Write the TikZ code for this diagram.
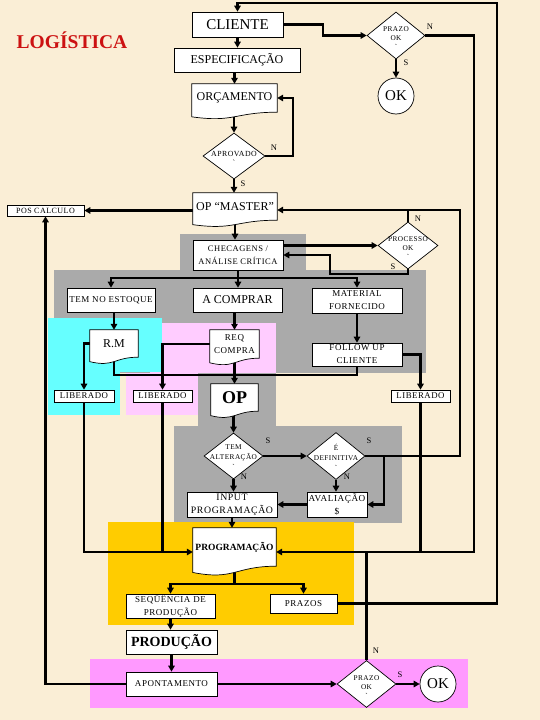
\documentclass[tikz,border=0pt]{standalone}
\usepackage{fontspec}
\setmainfont{Liberation Serif}
\newfontfamily\bmf[LetterSpace=6]{Liberation Serif}
\usetikzlibrary{arrows.meta,shapes.geometric,calc}
\pgfdeclarelayer{bg}
\pgfdeclarelayer{lines}
\pgfdeclarelayer{docs}
\pgfsetlayers{bg,lines,docs,main}
\newcommand\myfs[2]{\fontsize{#1}{#2}\selectfont}
\definecolor{cream}{RGB}{250,238,214}
\definecolor{greyc}{RGB}{170,170,170}
\definecolor{cyanc}{RGB}{102,255,255}
\definecolor{pinkl}{RGB}{255,204,255}
\definecolor{goldc}{RGB}{255,204,0}
\definecolor{magc}{RGB}{255,153,255}
\definecolor{titred}{RGB}{204,17,17}
\tikzset{
  conn/.style={line width=2.2pt,draw=black},
  arr/.style={conn,-{Triangle[length=6pt,width=6.5pt]}},
  box/.style={rectangle,draw=black,line width=0.7pt,fill=white,inner sep=0pt,align=center},
  dia/.style={diamond,draw=black,line width=0.7pt,fill=white,inner sep=0pt},
  dtext/.style={inner sep=0pt,align=center,font=\bmf\myfs{7.3}{9}},
  doct/.style={rectangle,inner sep=0pt,align=center},
  docline/.style={draw=black,line width=0.7pt,fill=white},
  okc/.style={circle,draw=black,line width=0.7pt,fill=white,inner sep=0pt,minimum size=36pt,font=\myfs{15}{16}},
  lab/.style={inner sep=0pt,font=\bmf\myfs{8.5}{9}},
  sm/.style={font=\bmf\myfs{9}{13}},
}
% document shape outline around a named node #1 of height #2
\newcommand\docshape[2]{%
  \path[docline] (#1.north west) -- (#1.north east) -- (#1.south east)
    .. controls (#1.south) and ($(#1.south)+(0,0.38*#2)$) ..
    ($(#1.south west)+(0,0.165*#2)$) -- cycle;}
\begin{document}
\begin{tikzpicture}[x=1pt,y=-1pt]
\useasboundingbox (0,0) rectangle (540,720);
\begin{pgfonlayer}{bg}
  \fill[cream] (0,0) rectangle (540,720);
  \fill[greyc] (180,234) rectangle (306,270);
  \fill[greyc] (54,270) rectangle (426,373);
  \fill[greyc] (198,373) rectangle (276,426);
  \fill[greyc] (174,426) rectangle (402,523);
  \fill[pinkl] (150,323) rectangle (276,373);
  \fill[pinkl] (126,373) rectangle (198,415);
  \fill[cyanc] (48,318) rectangle (162,372);
  \fill[cyanc] (48,372) rectangle (120,415);
  \fill[goldc] (108,522) rectangle (354,625);
  \fill[magc] (90,659) rectangle (468,708);
\end{pgfonlayer}

% title
\node[font=\bfseries\myfs{19.5}{22},text=titred] (title) at (72,40) {LOGÍSTICA};

% nodes
\node[box,minimum width=91pt,minimum height=25pt,font=\myfs{15}{16}] (cli) at (237.5,24.5) {CLIENTE};
\node[box,minimum width=126pt,minimum height=24pt,font=\myfs{12}{13}] (esp) at (237,60) {ESPECIFICAÇÃO};
\node[doct,minimum width=85pt,minimum height=28pt,font=\myfs{12}{13}] (orc) at (234.5,98) {ORÇAMENTO};
\node[dia,minimum width=62pt,minimum height=46pt] (apr) at (234,156) {};
\node[dtext,font=\bmf\myfs{7.8}{9}] (aprt) at (234,158) {APROVADO\\`};
\node[doct,minimum width=84pt,minimum height=27pt,font=\myfs{12}{13}] (opm) at (235,206.5) {OP “MASTER”};
\node[box,minimum width=77pt,minimum height=11pt,font=\bmf\myfs{8}{8}] (pos) at (45.5,210.5) {POS CALCULO};
\node[dia,minimum width=60pt,minimum height=47pt] (proc) at (408,245.5) {};
\node[dtext] (proct) at (408,248) {PROCESSO\\OK\\`};
\node[box,minimum width=90pt,minimum height=30pt,font=\bmf\myfs{8.5}{13}] (chk) at (238,255) {CHECAGENS /\\ANÁLISE CRÍTICA};
\node[box,minimum width=88pt,minimum height=24pt,sm] (est) at (111,300) {TEM NO ESTOQUE};
\node[box,minimum width=89pt,minimum height=24pt,font=\myfs{12}{13}] (acomp) at (237.5,300) {A COMPRAR};
\node[box,minimum width=90pt,minimum height=25pt,sm] (mat) at (357,300.5) {MATERIAL\\FORNECIDO};
\node[box,minimum width=90pt,minimum height=23pt,sm] (fol) at (357,354.5) {FOLLOW UP\\CLIENTE};
\node[doct,minimum width=49pt,minimum height=28pt,sm] (req) at (234.5,344) {REQ\\COMPRA};
\node[doct,minimum width=48pt,minimum height=27pt,font=\myfs{12}{13}] (rm) at (114,343.5) {R.M};
\node[box,minimum width=60pt,minimum height=12pt,font=\bmf\myfs{8.8}{9}] (lib1) at (84,396) {LIBERADO};
\node[box,minimum width=59pt,minimum height=12pt,font=\bmf\myfs{8.8}{9}] (lib2) at (162.5,396) {LIBERADO};
\node[box,minimum width=59pt,minimum height=12pt,font=\bmf\myfs{8.8}{9}] (lib3) at (420.5,396) {LIBERADO};
\node[doct,minimum width=47pt,minimum height=27pt,font=\bfseries\myfs{18}{20}] (op) at (234.5,397.5) {OP};
\node[dia,minimum width=59pt,minimum height=46pt] (tem) at (233.5,456) {};
\node[dtext,font=\bmf\myfs{7.3}{10}] (temt) at (233.5,457) {TEM\\ALTERAÇÃO\\`};
\node[dia,minimum width=58pt,minimum height=47pt] (edef) at (336,456) {};
\node[dtext,font=\bmf\myfs{7.3}{10}] (edeft) at (336,457) {É\\DEFINITIVA\\`};
\node[box,minimum width=90pt,minimum height=25pt,font=\bmf\myfs{9.8}{13}] (inp) at (232,504.5) {INPUT\\PROGRAMAÇÃO};
\node[box,minimum width=60pt,minimum height=25pt,font=\bmf\myfs{9.2}{13}] (ava) at (337,504.5) {AVALIAÇÃO\\\$};
\node[doct,minimum width=83pt,minimum height=38pt,font=\bfseries\myfs{9.5}{11}] (prog) at (234.5,547) {PROGRAMAÇÃO};
\node[box,minimum width=89pt,minimum height=24pt,sm] (seq) at (170.5,606) {SEQÜÊNCIA DE\\PRODUÇÃO};
\node[box,minimum width=67pt,minimum height=19pt,sm] (praz) at (303.5,603.5) {PRAZOS};
\node[box,minimum width=91pt,minimum height=24pt,font=\bfseries\myfs{14}{15}] (prod) at (171.5,642) {PRODUÇÃO};
\node[box,minimum width=91pt,minimum height=24pt,sm] (apo) at (171.5,684) {APONTAMENTO};
\node[dia,minimum width=59pt,minimum height=47pt] (pz2) at (366.5,684) {};
\node[dtext] (pz2t) at (366.5,687) {PRAZO\\OK\\`};
\node[okc] (ok2) at (438,684) {OK};
\node[dia,minimum width=58pt,minimum height=47pt] (pz1) at (396,35.5) {};
\node[dtext] (pz1t) at (396,38.5) {PRAZO\\OK\\`};
\node[okc] (ok1) at (396,96) {OK};

% document outlines
\begin{pgfonlayer}{docs}
  \docshape{orc}{28}
  \docshape{opm}{27}
  \docshape{req}{28}
  \docshape{rm}{27}
  \docshape{op}{27}
  \docshape{prog}{38}
\end{pgfonlayer}

% junction coordinates
\coordinate (c2) at (497,3);
\coordinate (c4) at (474,552);
\coordinate (c6) at (460,210);
\coordinate (c8) at (384,456);
\coordinate (d) at (0,278);
\coordinate (j) at (234.5,375);
\coordinate (p) at (0,584);

% connectors
\begin{pgfonlayer}{lines}
\begin{scope}[conn]
  \draw[arr] (praz.east) -| (c2) -| (cli.north);
  \draw[arr] (cli.east) -- ++(40,0) |- (pz1.west);
  \draw[arr] (pz1.south) -- (ok1.north);
  \draw[arr] (pz1.east) -| (c4) -- (prog.east |- c4);
  \draw[arr] (cli.south) -- (cli.south |- esp.north);
  \draw[arr] (orc.north |- esp.south) -- (orc.north);
  \draw[arr] (apr.north |- orc.south) -- (apr.north);
  \draw[arr] (apr.south) -- (apr.south |- opm.north);
  \draw[arr] (apr.east) -- ++(28,0) |- (orc.east);
  \draw[arr] (opm.west |- pos.east) -- (pos.east);
  \draw[arr] (apo.west) -| (pos.south);
  \draw[arr] (opm.south) -- (opm.south |- chk.north);
  \draw[arr] (chk.east |- proc.west) -- (proc.west);
  \draw[arr] (proc.south) -- ++(0,5) -| ($(chk.east)+(47,0)$) -- (chk.east);
  \draw (proc.north) -- (proc.north |- c6);
  \draw[arr] (edef.east) -| (c6) -- (opm.east |- c6);
  \draw[arr] (c8) |- (ava.east);
  \draw[arr] (chk.south) -- (chk.south |- acomp.north);
  \draw[arr] (chk.south |- d) -| (est.north);
  \draw[arr] (chk.south |- d) -| (mat.north);
  \draw[arr] (rm.north |- est.south) -- (rm.north);
  \draw[arr] (req.north |- acomp.south) -- (req.north);
  \draw[arr] (mat.south) -- (fol.north);
  \draw[arr] (fol.east) -| (lib3.north);
  \draw[arr] (rm.west) -| (lib1.north);
  \draw[arr] (req.west) -| (lib2.north);
  \draw (rm.south) |- (j);
  \draw (fol.south) |- (j);
  \draw[arr] (req.south) -- (op.north);
  \draw[arr] (lib1.south) |- (prog.west |- c4);
  \draw (lib2.south) -- (lib2.south |- c4);
  \draw (lib3.south) -- (lib3.south |- c4);
  \draw (pz2.north) -- (pz2.north |- c4);
  \draw[arr] (tem.north |- op.south) -- (tem.north);
  \draw[arr] (tem.east) -- (edef.west);
  \draw[arr] (tem.south) -- (tem.south |- inp.north);
  \draw[arr] (edef.south) -- (edef.south |- ava.north);
  \draw[arr] (ava.west) -- (inp.east);
  \draw[arr] (inp.south) -- (inp.south |- prog.north);
  \draw (prog.south) -- (prog.south |- p);
  \draw[arr] (prog.south |- p) -| (seq.north);
  \draw[arr] (prog.south |- p) -| (praz.north);
  \draw[arr] (seq.south) -- (seq.south |- prod.north);
  \draw[arr] (prod.south) -- (prod.south |- apo.north);
  \draw[arr] (apo.east) -- (pz2.west);
  \draw[arr] (pz2.east) -- (ok2.west);
\end{scope}
\end{pgfonlayer}

% branch labels
\node[lab] (l1) at (430,27) {N};
\node[lab] (l2) at (406,63) {S};
\node[lab] (l3) at (274,148) {N};
\node[lab] (l4) at (243,184) {S};
\node[lab] (l5) at (418,219) {N};
\node[lab] (l6) at (393,267) {S};
\node[lab] (l7) at (268,441) {S};
\node[lab] (l8) at (244,477) {N};
\node[lab] (l9) at (369,441) {S};
\node[lab] (l10) at (347,477) {N};
\node[lab] (l11) at (376,651) {N};
\node[lab] (l12) at (400,675) {S};
\end{tikzpicture}
\end{document}
